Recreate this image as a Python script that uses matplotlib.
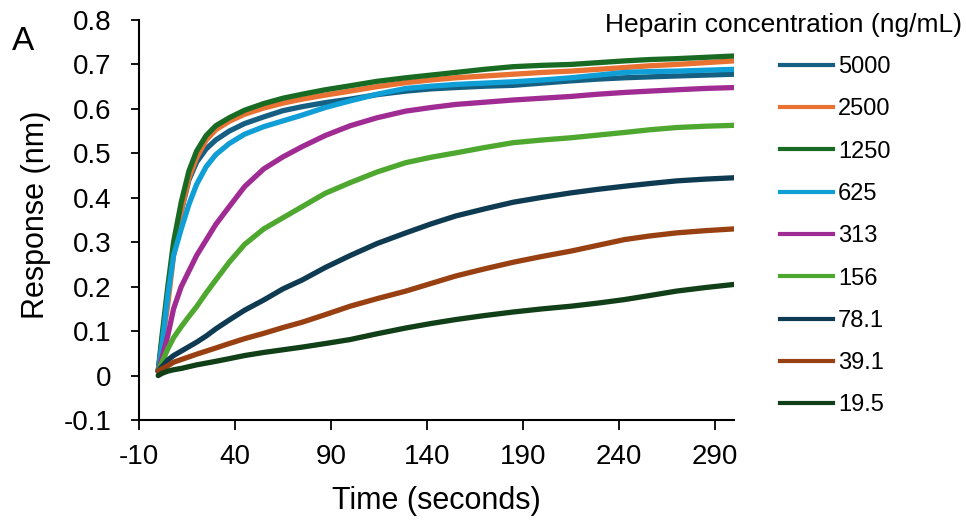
import matplotlib
matplotlib.use("Agg")
import matplotlib.pyplot as plt

plt.rcParams['font.family'] = ['Liberation Sans', 'DejaVu Sans']

# ---- data ----
time_s = [0, 2, 5, 8, 12, 16, 20, 25, 30, 37, 45, 55, 65, 75, 87, 100, 114, 129, 142, 155,
          170, 185, 200, 215, 229, 243, 256, 270, 285, 300]

conc_labels = ["5000", "2500", "1250", "625", "313", "156", "78.1", "39.1", "19.5"]

resp_5000 = [0.01, 0.08, 0.18, 0.28, 0.37, 0.44, 0.48, 0.51, 0.53, 0.55, 0.567, 0.582, 0.596, 0.605, 0.614, 0.622,
             0.632, 0.640, 0.645, 0.648, 0.651, 0.653, 0.658, 0.663, 0.667, 0.670, 0.672, 0.674, 0.676, 0.678]
resp_2500 = [0.01, 0.07, 0.16, 0.27, 0.37, 0.445, 0.49, 0.53, 0.553, 0.572, 0.588, 0.602, 0.613, 0.622, 0.631, 0.640,
             0.650, 0.659, 0.665, 0.670, 0.674, 0.678, 0.682, 0.685, 0.689, 0.693, 0.697, 0.700, 0.704, 0.708]
resp_1250 = [0.01, 0.09, 0.20, 0.30, 0.39, 0.46, 0.505, 0.54, 0.562, 0.580, 0.597, 0.612, 0.624, 0.633, 0.643, 0.652,
             0.662, 0.670, 0.676, 0.682, 0.689, 0.695, 0.698, 0.700, 0.704, 0.708, 0.711, 0.713, 0.716, 0.719]
resp_625 = [0.01, 0.07, 0.18, 0.27, 0.33, 0.385, 0.43, 0.47, 0.497, 0.522, 0.543, 0.560, 0.573, 0.586, 0.603, 0.618,
            0.633, 0.646, 0.651, 0.655, 0.658, 0.661, 0.665, 0.670, 0.676, 0.682, 0.684, 0.685, 0.687, 0.689]
resp_313 = [0.01, 0.04, 0.09, 0.15, 0.20, 0.235, 0.27, 0.305, 0.34, 0.38, 0.425, 0.465, 0.492, 0.515, 0.540, 0.562,
            0.580, 0.595, 0.603, 0.610, 0.615, 0.620, 0.624, 0.628, 0.633, 0.637, 0.640, 0.643, 0.646, 0.648]
resp_156 = [0.01, 0.03, 0.06, 0.085, 0.11, 0.133, 0.155, 0.186, 0.215, 0.255, 0.295, 0.330, 0.355, 0.380, 0.410, 0.434,
            0.458, 0.479, 0.491, 0.501, 0.513, 0.524, 0.530, 0.535, 0.541, 0.547, 0.553, 0.558, 0.561, 0.563]
resp_78 = [0.01, 0.02, 0.035, 0.045, 0.055, 0.065, 0.075, 0.089, 0.105, 0.125, 0.147, 0.170, 0.195, 0.215, 0.243, 0.270,
           0.297, 0.321, 0.341, 0.359, 0.375, 0.390, 0.401, 0.411, 0.419, 0.426, 0.432, 0.438, 0.442, 0.445]
resp_39 = [0.01, 0.015, 0.022, 0.030, 0.036, 0.042, 0.048, 0.055, 0.062, 0.072, 0.083, 0.095, 0.108, 0.120, 0.137, 0.156,
           0.173, 0.190, 0.207, 0.224, 0.240, 0.255, 0.268, 0.280, 0.293, 0.306, 0.314, 0.321, 0.326, 0.330]
resp_19 = [0.0, 0.005, 0.010, 0.013, 0.016, 0.020, 0.024, 0.028, 0.032, 0.038, 0.045, 0.052, 0.058, 0.064, 0.072, 0.081,
           0.094, 0.107, 0.117, 0.126, 0.135, 0.143, 0.150, 0.156, 0.163, 0.171, 0.180, 0.190, 0.198, 0.205]

series = [resp_5000, resp_2500, resp_1250, resp_625, resp_313, resp_156, resp_78, resp_39, resp_19]
colors = ["#156082", "#E97132", "#196B24", "#0F9ED5", "#A02B93", "#4EA72E", "#0E3A52", "#984011", "#113F17"]

xticks = [-10, 40, 90, 140, 190, 240, 290]
yticks = [-0.1, 0, 0.1, 0.2, 0.3, 0.4, 0.5, 0.6, 0.7, 0.8]
ytick_labels = ["-0.1", "0", "0.1", "0.2", "0.3", "0.4", "0.5", "0.6", "0.7", "0.8"]

# ---- figure ----
W, H = 966, 525
fig = plt.figure(figsize=(W / 100, H / 100), dpi=100)
ax = fig.add_axes([139 / W, 1 - 420 / H, (734 - 139) / W, (420 - 20) / H])

for vals, col, lab in zip(series, colors, conc_labels):
    ax.plot(time_s, vals, color=col, lw=3.8, solid_capstyle='round',
            solid_joinstyle='round', label=lab)

ax.set_xlim(-10, 300)
ax.set_ylim(-0.1, 0.8)
ax.set_xticks(xticks)
ax.set_xticklabels([str(v) for v in xticks])
ax.set_yticks(yticks)
ax.set_yticklabels(ytick_labels)

for s in ['top', 'right']:
    ax.spines[s].set_visible(False)
ax.spines['left'].set_linewidth(1.5)
ax.spines['bottom'].set_linewidth(1.5)

ax.tick_params(axis='y', direction='out', length=6, width=1.3, pad=14, labelsize=20)
ax.tick_params(axis='x', direction='out', length=7, width=1.3, pad=10, labelsize=20)

ax.set_xlabel("Time (seconds)", fontsize=22)
ax.set_ylabel("Response (nm)", fontsize=22)
ax.xaxis.set_label_coords(0.5, -0.165)
ax.yaxis.set_label_coords(-0.148, 0.5125)

fig.text(12 / W, 1 - 50 / H, "A", fontsize=24, va='baseline', ha='left')
fig.text(962 / W, 1 - 32 / H, "Heparin concentration (ng/mL)", fontsize=19,
         va='baseline', ha='right')

leg_handles = [plt.Line2D([], [], color=c, lw=3) for c in colors]
fig.legend(leg_handles, conc_labels, loc='upper left',
           bbox_to_anchor=(780 / W, 1 - 56 / H), frameon=False,
           fontsize=17, handlelength=2.25, handletextpad=0.2,
           labelspacing=0.86, borderpad=0, borderaxespad=0)

fig.savefig("out.png", dpi=100)
